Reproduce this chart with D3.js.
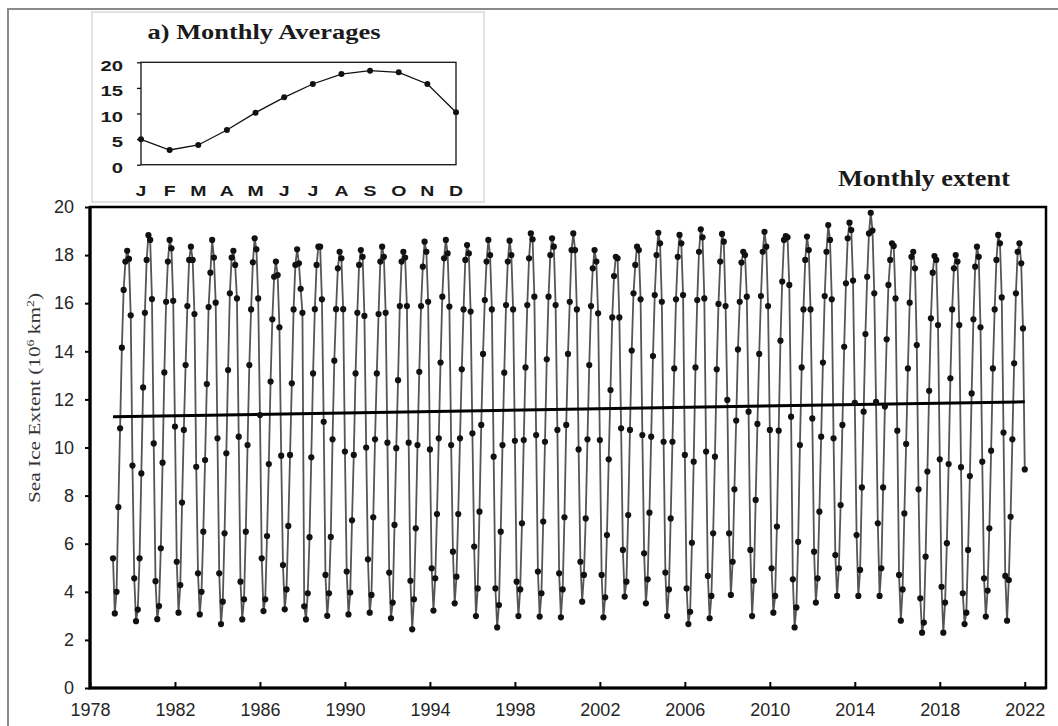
<!DOCTYPE html>
<html>
<head>
<meta charset="utf-8">
<script src="https://cdn.jsdelivr.net/npm/d3@7"></script>
<style>
  body { margin: 0; background: #fff; }
  svg { display: block; }
</style>
</head>
<body>
<div id="chart"></div>
<script>
// données (10^6 km2), une ligne par année, de janvier à décembre
const FIRST_YEAR = 1979;
const extent = [
  [5.39, 3.10, 4.00, 7.52, 10.80, 14.15, 16.55, 17.73, 18.18, 17.84, 15.50, 9.25], // 1979
  [4.56, 2.78, 3.26, 5.39, 8.92, 12.50, 15.60, 17.80, 18.83, 18.63, 16.17, 10.17],
  [4.44, 2.86, 3.41, 5.81, 9.37, 13.12, 16.06, 17.73, 18.63, 18.28, 16.10, 10.87],
  [5.25, 3.13, 4.28, 7.71, 10.73, 13.43, 15.88, 17.80, 18.35, 17.80, 15.55, 9.20],
  [4.77, 3.06, 4.00, 6.50, 9.48, 12.64, 15.84, 17.27, 18.63, 17.90, 16.02, 10.38],
  [4.77, 2.66, 3.59, 6.43, 9.76, 13.22, 16.41, 17.90, 18.18, 17.59, 16.20, 10.45], // 1984
  [4.42, 2.85, 3.69, 6.50, 10.10, 13.43, 15.74, 17.70, 18.70, 18.24, 16.20, 11.35],
  [5.39, 3.20, 3.69, 6.32, 9.31, 12.74, 15.33, 17.10, 17.73, 17.17, 15.00, 9.66],
  [5.11, 3.27, 4.10, 6.74, 9.69, 12.67, 15.74, 17.59, 18.24, 17.66, 16.60, 15.60],
  [3.40, 2.85, 3.94, 6.27, 9.59, 13.08, 15.75, 17.59, 18.35, 18.35, 16.16, 11.07],
  [4.70, 3.00, 3.94, 6.28, 10.34, 13.61, 15.75, 17.45, 18.14, 17.87, 15.75, 9.83], // 1989
  [4.84, 3.06, 3.97, 6.97, 9.69, 13.08, 15.60, 17.59, 18.21, 17.93, 15.47, 10.00],
  [5.35, 3.13, 3.87, 7.10, 10.34, 13.08, 15.55, 17.73, 18.35, 17.93, 15.60, 10.20],
  [4.80, 2.90, 3.55, 6.78, 9.97, 12.80, 15.88, 17.73, 18.14, 17.90, 15.88, 10.20],
  [4.46, 2.44, 3.69, 6.64, 10.10, 13.15, 15.88, 17.52, 18.56, 18.14, 16.06, 9.92],
  [4.98, 3.22, 4.56, 7.23, 10.38, 13.53, 16.27, 17.87, 18.63, 18.07, 15.86, 10.10], // 1994
  [5.67, 3.52, 4.63, 7.23, 10.38, 13.25, 15.74, 17.80, 18.42, 18.07, 15.65, 10.59],
  [5.88, 2.99, 4.14, 7.33, 10.94, 13.89, 16.13, 17.73, 18.63, 18.00, 15.74, 9.62],
  [4.14, 2.52, 3.45, 6.50, 10.10, 13.11, 15.92, 17.73, 18.60, 18.00, 15.74, 10.28],
  [4.42, 2.99, 4.10, 6.85, 10.31, 13.33, 15.92, 17.87, 18.90, 18.66, 16.27, 10.52],
  [4.84, 2.97, 3.94, 6.92, 10.24, 13.67, 16.27, 18.00, 18.70, 18.35, 15.92, 10.73], // 1999
  [4.77, 2.94, 4.10, 7.10, 10.94, 13.89, 16.06, 18.21, 18.90, 18.21, 15.74, 9.92],
  [5.25, 3.59, 4.70, 7.05, 10.34, 13.43, 15.88, 17.45, 18.21, 17.73, 15.58, 10.31],
  [4.70, 2.94, 3.77, 6.36, 9.51, 12.39, 15.41, 17.13, 17.93, 17.87, 15.41, 10.80],
  [5.74, 3.80, 4.42, 7.19, 10.73, 14.03, 16.41, 17.59, 18.35, 18.21, 16.16, 10.52],
  [5.60, 3.52, 4.52, 7.29, 10.45, 13.80, 16.34, 18.00, 18.93, 18.49, 16.06, 10.24], // 2004
  [4.80, 2.99, 4.10, 7.05, 10.24, 13.29, 16.16, 17.93, 18.84, 18.49, 16.34, 9.69],
  [4.14, 2.66, 3.17, 6.04, 9.41, 13.33, 16.13, 18.14, 19.07, 18.74, 16.20, 9.83],
  [4.66, 2.90, 3.83, 6.43, 9.62, 13.25, 15.97, 17.73, 18.88, 18.56, 15.88, 11.98],
  [6.43, 3.87, 5.25, 8.26, 11.12, 14.08, 16.06, 17.69, 18.14, 18.00, 16.27, 11.49],
  [5.74, 2.99, 4.46, 7.82, 10.98, 13.89, 16.30, 18.14, 18.97, 18.35, 15.88, 10.73], // 2009
  [4.98, 3.13, 3.83, 6.71, 10.70, 14.44, 16.90, 18.63, 18.79, 18.74, 16.76, 11.28],
  [4.52, 2.52, 3.35, 6.08, 10.10, 13.33, 15.74, 17.80, 18.77, 18.21, 15.74, 11.21],
  [5.67, 3.55, 4.56, 7.33, 10.45, 13.53, 16.30, 18.14, 19.25, 18.63, 16.16, 10.38],
  [5.53, 3.83, 4.98, 7.61, 10.94, 14.19, 16.83, 18.70, 19.35, 19.04, 16.94, 11.86],
  [6.36, 3.83, 4.91, 8.34, 11.49, 14.72, 17.10, 18.90, 19.76, 19.02, 16.41, 11.90], // 2014
  [6.85, 3.83, 4.98, 8.34, 11.70, 14.50, 16.76, 17.80, 18.49, 18.38, 16.20, 10.70],
  [4.70, 2.80, 4.10, 7.26, 10.15, 13.29, 16.02, 17.93, 18.14, 17.45, 14.26, 8.26],
  [3.73, 2.30, 2.72, 5.46, 9.00, 12.36, 15.37, 17.27, 17.96, 17.80, 15.09, 9.51],
  [4.21, 2.30, 3.55, 6.02, 9.31, 12.88, 15.74, 17.45, 18.00, 17.73, 15.09, 9.18],
  [3.94, 2.66, 3.13, 5.74, 8.81, 12.25, 15.33, 17.52, 18.35, 17.93, 15.00, 9.41], // 2019
  [4.56, 2.97, 4.05, 6.64, 9.87, 13.29, 15.74, 17.80, 18.84, 18.49, 16.24, 10.62],
  [4.66, 2.80, 4.49, 7.12, 10.34, 13.50, 16.41, 18.14, 18.49, 17.66, 14.95, 9.09]  // 2021
];
const trendEnds = [11.28, 11.90]; // droite de tendance, janvier 1979 -> décembre 2021
const yearTicks = [1978, 1982, 1986, 1990, 1994, 1998, 2002, 2006, 2010, 2014, 2018, 2022];
const extentTicks = [0, 2, 4, 6, 8, 10, 12, 14, 16, 18, 20];

// encart a) moyennes mensuelles
const monthLabels = ['J', 'F', 'M', 'A', 'M', 'J', 'J', 'A', 'S', 'O', 'N', 'D'];
const monthlyAverages = [4.96, 2.87, 3.85, 6.78, 10.16, 13.16, 15.76, 17.71, 18.36, 18.05, 15.76, 10.23];
const averageTicks = [0, 5, 10, 15, 20];

const WIDTH = 1058;
const HEIGHT = 726;

const svg = d3.select('#chart').append('svg').attr('width', WIDTH).attr('height', HEIGHT);

// bord gris de l'image
svg.append('rect')
  .attr('x', 8).attr('y', 9).attr('width', WIDTH).attr('height', HEIGHT)
  .attr('fill', 'none').attr('stroke', '#8a8a8a').attr('stroke-width', 2);

// ---------- graphique principal ----------
const x = d3.scaleLinear().domain([1978, 2023]).range([90, 1046]);
const y = d3.scaleLinear().domain([0, 20]).range([688, 207]);

// une date décimale pour chaque mois
const series = extent.flatMap((row, i) => row.map((v, m) => ({ t: FIRST_YEAR + i + (m + 1) / 12, v })));

const xAxis = svg.append('g')
  .attr('transform', 'translate(0,688)')
  .call(d3.axisBottom(x).tickValues(yearTicks).tickFormat(d3.format('d')).tickSize(-6).tickSizeOuter(0).tickPadding(15));
xAxis.select('.domain').remove();

const yAxis = svg.append('g')
  .attr('transform', 'translate(90,0)')
  .call(d3.axisLeft(y).tickValues(extentTicks).tickSize(5).tickSizeOuter(0).tickPadding(11));
yAxis.select('.domain').remove();

[xAxis, yAxis].forEach(ax => {
  ax.selectAll('line').attr('stroke', '#000').attr('stroke-width', 2);
  ax.selectAll('text')
    .attr('fill', '#262626')
    .style('font-family', '"Liberation Sans", Arial, sans-serif')
    .style('font-size', '18px');
});

// cadre : axes épais à gauche et en bas
svg.append('rect')
  .attr('x', x.range()[0]).attr('y', y.range()[1])
  .attr('width', x.range()[1] - x.range()[0]).attr('height', y.range()[0] - y.range()[1])
  .attr('fill', 'none').attr('stroke', '#000').attr('stroke-width', 2.5);
svg.append('path')
  .attr('d', `M${x(1978)},${y(20)}V${y(0)}H${x(2023)}`)
  .attr('fill', 'none').attr('stroke', '#000').attr('stroke-width', 3.2);

const line = d3.line().x(d => x(d.t)).y(d => y(d.v));

svg.append('path')
  .datum(series)
  .attr('d', line)
  .attr('fill', 'none')
  .attr('stroke', '#555')
  .attr('stroke-width', 1.8)
  .attr('stroke-linejoin', 'round');

// tendance linéaire
const trend = [
  { t: series[0].t, v: trendEnds[0] },
  { t: series[series.length - 1].t, v: trendEnds[1] }
];
svg.append('path')
  .datum(trend)
  .attr('d', line)
  .attr('stroke', '#000')
  .attr('stroke-width', 3);

svg.append('g').selectAll('circle')
  .data(series)
  .enter()
  .append('circle')
  .attr('cx', d => x(d.t))
  .attr('cy', d => y(d.v))
  .attr('r', 3.1)
  .attr('fill', '#111');

// titre et nom de l'axe
svg.append('text')
  .attr('x', 924).attr('y', 186)
  .attr('text-anchor', 'middle')
  .attr('textLength', 172).attr('lengthAdjust', 'spacingAndGlyphs')
  .style('font-family', '"Liberation Serif", "Times New Roman", serif')
  .style('font-weight', 'bold')
  .style('font-size', '23px')
  .attr('fill', '#1a1a1a')
  .text('Monthly extent');

const yLabel = svg.append('text')
  .attr('transform', 'translate(40,398) rotate(-90)')
  .attr('text-anchor', 'middle')
  .attr('textLength', 210).attr('lengthAdjust', 'spacingAndGlyphs')
  .style('font-family', '"Liberation Serif", "Times New Roman", serif')
  .style('font-size', '17px')
  .attr('fill', '#333');
yLabel.append('tspan').text('Sea Ice Extent (10');
yLabel.append('tspan').attr('dy', -6).style('font-size', '11px').text('6');
yLabel.append('tspan').attr('dy', 6).text(' km');
yLabel.append('tspan').attr('dy', -6).style('font-size', '11px').text('2');
yLabel.append('tspan').attr('dy', 6).text(')');

// ---------- encart ----------
const inset = svg.append('g');
inset.append('rect')
  .attr('x', 92).attr('y', 12).attr('width', 392).attr('height', 190)
  .attr('fill', '#fff').attr('stroke', '#cfcfcf').attr('stroke-width', 1.2);

const ix = d3.scalePoint().domain(d3.range(12)).range([141, 456]);
const iy = d3.scaleLinear().domain([0, 20]).range([164.7, 62.3]);

inset.append('rect')
  .attr('x', 141).attr('y', iy(20)).attr('width', 456 - 141).attr('height', iy(0) - iy(20))
  .attr('fill', 'none').attr('stroke', '#111').attr('stroke-width', 1.3);

const iyAxis = inset.append('g')
  .attr('transform', 'translate(141,0)')
  .call(d3.axisLeft(iy).tickValues(averageTicks).tickSize(4).tickSizeOuter(0).tickPadding(0));
iyAxis.select('.domain').remove();
iyAxis.selectAll('line').attr('stroke', '#111').attr('stroke-width', 1.3);
iyAxis.selectAll('text')
  .attr('x', 0).attr('dy', '0.42em')
  .attr('transform', 'translate(-18,2) scale(1.45,1)')
  .attr('fill', '#1a1a1a')
  .style('font-family', '"Liberation Sans", Arial, sans-serif')
  .style('font-weight', 'bold')
  .style('font-size', '14px');

inset.append('g').selectAll('text')
  .data(monthLabels)
  .enter()
  .append('text')
  .attr('transform', (d, i) => `translate(${ix(i)},196) scale(1.3,1)`)
  .attr('text-anchor', 'middle')
  .attr('fill', '#1a1a1a')
  .style('font-family', '"Liberation Sans", Arial, sans-serif')
  .style('font-weight', 'bold')
  .style('font-size', '15px')
  .text(d => d);

inset.append('path')
  .datum(monthlyAverages)
  .attr('d', d3.line().x((d, i) => ix(i)).y(d => iy(d)))
  .attr('fill', 'none').attr('stroke', '#111').attr('stroke-width', 1.3);

inset.append('g').selectAll('circle')
  .data(monthlyAverages)
  .enter()
  .append('circle')
  .attr('cx', (d, i) => ix(i))
  .attr('cy', d => iy(d))
  .attr('r', 3)
  .attr('fill', '#111');

inset.append('text')
  .attr('x', 264).attr('y', 39)
  .attr('text-anchor', 'middle')
  .attr('textLength', 233).attr('lengthAdjust', 'spacingAndGlyphs')
  .style('font-family', '"Liberation Serif", "Times New Roman", serif')
  .style('font-weight', 'bold')
  .style('font-size', '20px')
  .attr('fill', '#1a1a1a')
  .text('a) Monthly Averages');
</script>
</body>
</html>
